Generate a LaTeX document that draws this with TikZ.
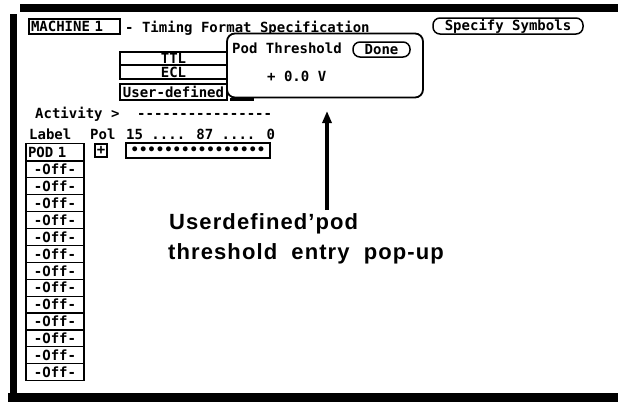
\documentclass[tikz,border=0pt]{standalone}
\usepackage{fontspec}
\setmainfont{Liberation Sans}
\newfontfamily\scrfont{DejaVu Sans Mono}
\newfontfamily\capfont[LetterSpace=5]{Liberation Sans}
\usetikzlibrary{arrows.meta}
\tikzset{
  scr/.style={font=\scrfont\bfseries\fontsize{14}{14}\selectfont, inner sep=0pt},
  scrtxt/.style={scr, anchor=base west},
  field/.style={scr, draw, line width=1.2pt},
  pill/.style={scr, draw, line width=1.5pt, rounded corners=7pt},
  bar/.style={fill=black},
  caption/.style={font=\capfont\bfseries\fontsize{22}{22}\selectfont, inner sep=0pt, anchor=base west},
  pointer/.style={line width=3.5pt, -{Triangle[width=9pt,length=12pt]}}
}
\begin{document}
\begin{tikzpicture}[x=1pt,y=-1pt]
\path[use as bounding box] (0,0) rectangle (618,402);
% frame bars
\fill[bar] (20,4) rectangle (618,12);
\fill[bar] (10,14) rectangle (17,393);
\fill[bar] (8,393) rectangle (618,402);

% header
\node[field, minimum width=91pt, minimum height=15pt, text width=87pt, align=left] (machine) at (74.5,26.5) {MACHINE 1};
\node[scrtxt] (title) at (125,32.5) {- Timing Format Specification};
\node[pill, minimum width=150pt, minimum height=16pt] (spec) at (508,26) {Specify Symbols};

% threshold menu
\node[field, minimum width=107pt, minimum height=13pt] (ttl) at (173.5,58.5) {TTL};
\node[field, minimum width=107pt, minimum height=14pt] (ecl) at (173.5,72) {ECL};
\node[field, line width=1.8pt, minimum width=107pt, minimum height=16pt] (user) at (173.5,92) {User-defined};

% pop-up
\draw[line width=2.5pt] (230,99.5) -- (254,99.5);
\node[draw, fill=white, line width=1.8pt, rounded corners=8pt, minimum width=196pt, minimum height=64pt] (popup) at (325,65.5) {};
\node[scrtxt] (podthr) at (232,53) {Pod Threshold};
\node[pill, minimum width=57pt, minimum height=15pt] (done) at (381.5,49.5) {Done};
\node[scrtxt] (volt) at (267,81) {+ 0.0 V};

% activity / labels
\node[scrtxt] (activity) at (35,118.5) {Activity >};
\node[scrtxt] (actdash) at (137,118.5) {----------------};
\node[scrtxt] (label) at (29,139) {Label};
\node[scrtxt] (pol) at (90,139) {Pol};
\node[scrtxt] (bits) at (126,139) {15 .... 87 .... 0};

\node[field, minimum width=58pt, minimum height=16.9pt, text width=54pt, align=left] (pod) at (55,151.95) {POD 1};
\node[field, minimum width=12pt, minimum height=13pt] (polbox) at (101,150.5) {+};
\node[field, line width=1.5pt, minimum width=144pt, minimum height=15pt] (bitbox) at (198,150.5) {••••••••••••••••};
\foreach \i in {1,...,13}
  \node[field, minimum width=58pt, minimum height=16.9pt] (off\i) at (55,{152.5+16.9*\i}) {-Off-};

% caption and arrow
\node[caption] (cap1) at (169,229) {Userdefined’pod};
\node[caption] (cap2) at (168,259) {threshold\hspace{7pt} entry\hspace{7pt} pop-up};
\coordinate (tail) at (327,210);
\coordinate (tip) at (327,111);
\draw[pointer] (tail) -- (tip);
\end{tikzpicture}
\end{document}
